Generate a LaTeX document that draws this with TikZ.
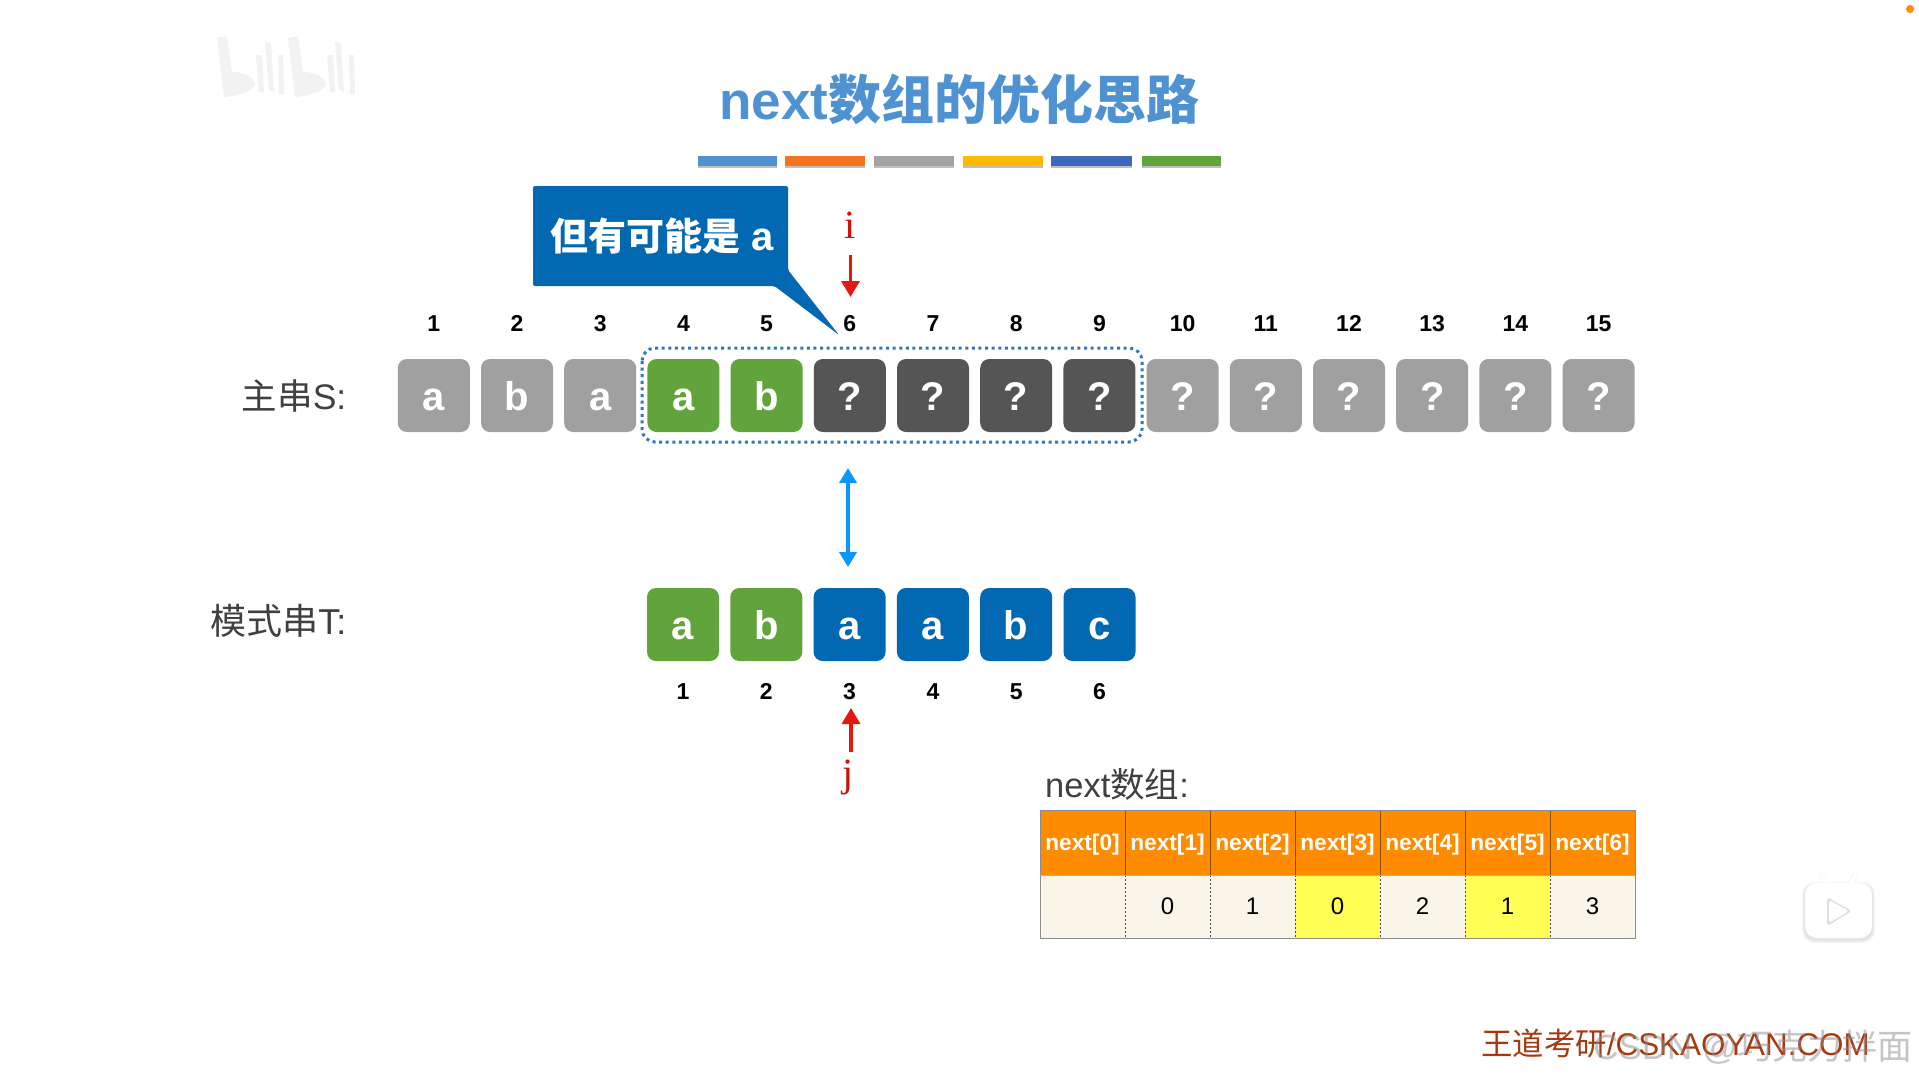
\documentclass[tikz,border=0pt]{standalone}
\usepackage{fontspec}
\setmainfont{Liberation Sans}
\newfontfamily\cjk{Noto Sans CJK SC}
\newfontfamily\ptrfont{Liberation Serif}
\usetikzlibrary{arrows.meta,shapes.geometric}
\definecolor{titleblue}{HTML}{4F92D2}
\definecolor{boxgray}{HTML}{A0A0A0}
\definecolor{boxdark}{HTML}{555555}
\definecolor{boxgreen}{HTML}{62A43C}
\definecolor{boxblue}{HTML}{0268B2}
\definecolor{txtdark}{HTML}{404040}
\definecolor{redmark}{HTML}{E2190C}
\definecolor{redtext}{HTML}{CC1208}
\definecolor{skyarrow}{HTML}{0A97FB}
\definecolor{hdrorange}{HTML}{FF8B00}
\definecolor{rowcream}{HTML}{F9F6E9}
\definecolor{rowyellow}{HTML}{FFFF55}
\definecolor{dotblue}{HTML}{2F78BE}
\definecolor{footred}{HTML}{A8380F}
\newcommand{\fs}[1]{\fontsize{#1}{#1}\selectfont}
\tikzset{
  x=1pt,y=-1pt,
  cellbox/.style={rounded corners=9pt,minimum width=72pt,minimum height=73pt,inner sep=0pt,
    text=white,font=\fs{40}\bfseries,text height=30pt,text depth=0pt},
  gbox/.style={cellbox,fill=boxgray},
  dbox/.style={cellbox,fill=boxdark},
  grbox/.style={cellbox,fill=boxgreen},
  blbox/.style={cellbox,fill=boxblue},
  numlabel/.style={font=\fs{23}\bfseries,text=black,inner sep=0pt,anchor=base},
  sidelabel/.style={text=txtdark,inner sep=0pt,anchor=east},
  redptr/.style={-{Triangle[length=16pt,width=18pt]},line width=3.5pt,draw=redmark},
  ptrtext/.style={font=\ptrfont\fs{40},text=redtext,inner sep=0pt,anchor=base},
  hdr/.style={minimum width=85pt,minimum height=65pt,inner sep=0pt,fill=hdrorange,text=white,
    font=\fs{22.7}\bfseries,text height=20pt,text depth=4pt},
  bodycell/.style={minimum width=85pt,minimum height=63pt,inner sep=0pt,fill=#1,text=black,
    font=\fs{24},text height=17pt,text depth=2pt},
  logo/.style={fill=black!5,draw=none},
}
\begin{document}
\begin{tikzpicture}
\useasboundingbox (0,0) rectangle (1919,1079);
\fill[white] (0,0) rectangle (1919,1079);

% faint channel logo
\fill[logo] (217,38) -- (227,36) -- (232,72) .. controls (245,72) and (255,78) .. (255,85) .. controls (250,93) and (235,96) .. (224,97) -- cycle;
\fill[logo] (288,38) -- (298,36) -- (303,72) .. controls (316,72) and (326,78) .. (326,85) .. controls (321,93) and (306,96) .. (295,97) -- cycle;
\fill[logo] (256,55) -- (262,55) -- (264,92) -- (259,92) -- cycle;
\fill[logo] (265,42) -- (271,43) -- (274,92) -- (269,90) -- cycle;
\fill[logo] (278,55) -- (283,55) -- (284,94) -- (279,94) -- cycle;
\fill[logo] (327,55) -- (333,55) -- (335,92) -- (330,92) -- cycle;
\fill[logo] (335,42) -- (341,43) -- (344,92) -- (339,90) -- cycle;
\fill[logo] (349,55) -- (354,55) -- (355,94) -- (350,94) -- cycle;

% orange dot
\fill[hdrorange] (1910,9) circle (4pt);

% title
\node[inner sep=0pt,text=titleblue,font=\fs{53}\bfseries] (title) at (959.5,99) {next{\cjk 数组的优化思路}};

% colour bars
\foreach \xa/\xb/\col in {698/777/4F92D2,785/865/F47320,874/954/A3A3A3,963/1043/FFB900,1051/1132/3C68C0,1142/1221/62A43C}{
  \definecolor{barcol}{HTML}{\col}
  \fill[black!25] (\xa,158) rectangle (\xb,168);
  \fill[barcol] (\xa,156) rectangle (\xb,166);
}

% callout
\fill[boxblue,rounded corners=2pt] (533,186) -- (788,186) -- (788,270) -- (839,335) -- (774.5,286) -- (533,286) -- cycle;
\node[inner sep=0pt,text=white,font=\fs{38}\bfseries] (callout) at (662,236) {{\cjk 但有可能是} {\fs{40}a}};

% pointer i
\node[ptrtext] (ilabel) at (850.5,238) {i};
\coordinate (itail) at (850.5,255);
\coordinate (itip) at (850.5,297);
\draw[redptr] (itail) -- (itip);

% main string
\node[sidelabel,font=\fs{35.5}] (slabel) at (346.5,396) {{\cjk 主串}S:};
\foreach \k/\ch/\st in {1/a/gbox,2/b/gbox,3/a/gbox,4/a/grbox,5/b/grbox,6/?/dbox,7/?/dbox,8/?/dbox,9/?/dbox,10/?/gbox,11/?/gbox,12/?/gbox,13/?/gbox,14/?/gbox,15/?/gbox}{
  \node[\st] (s\k) at ({433.8+83.2*(\k-1)},395.5) {\ch};
  \node[numlabel] (sn\k) at ({433.8+83.2*(\k-1)},331.5) {\k};
}
\draw[dotblue,line width=3pt,dash pattern=on 3pt off 3.6pt,rounded corners=13pt] (642,348) rectangle (1142,442);

% double arrow
\coordinate (dtop) at (848,468);
\coordinate (dbot) at (848,567);
\draw[{Triangle[length=15pt,width=17pt]}-{Triangle[length=15pt,width=17pt]},line width=3.5pt,draw=skyarrow] (dtop) -- (dbot);

% pattern string
\node[sidelabel,font=\fs{36}] (tlabel) at (346.5,621) {{\cjk 模式串}T:};
\foreach \k/\ch/\st in {1/a/grbox,2/b/grbox,3/a/blbox,4/a/blbox,5/b/blbox,6/c/blbox}{
  \node[\st] (t\k) at ({683+83.3*(\k-1)},624.5) {\ch};
  \node[numlabel] (tn\k) at ({683+83.3*(\k-1)},699.5) {\k};
}

% pointer j
\coordinate (jtail) at (851,752);
\coordinate (jtip) at (851,708);
\draw[redptr] (jtail) -- (jtip);
\node[ptrtext] (jlabel) at (848,786) {j};

% next table
\node[inner sep=0pt,anchor=west,font=\fs{34.5},text=txtdark] (nextlabel) at (1045,784) {next{\cjk 数组}:};
\foreach \k/\v/\col in {0//rowcream,1/0/rowcream,2/1/rowcream,3/0/rowyellow,4/2/rowcream,5/1/rowyellow,6/3/rowcream}{
  \node[hdr] (h\k) at ({1082.5+85*\k},842.5) {next[\k]};
  \node[bodycell=\col] (c\k) at ({1082.5+85*\k},906.5) {\v};
}
\foreach \k in {1,...,6}{
  \draw[draw=black!45!hdrorange,line width=.9pt] ({1040+85*\k},810) -- ({1040+85*\k},875);
  \draw[draw=black!70,line width=.9pt,dash pattern=on 2pt off 2pt] ({1040+85*\k},875) -- ({1040+85*\k},938);
}
\draw[draw=black!45,line width=1pt] (1040,810) rectangle (1635,938);
\draw[draw=black!30,line width=1pt] (1040,875) -- (1635,875);

% player icon
\foreach \g in {6,4,2}{
  \fill[black,opacity=.035,rounded corners=12pt] ({1805-\g/2},{883-\g/2+2}) rectangle ({1872+\g/2},{938+\g/2+2});
}
\draw[black!6,line width=5pt,line cap=round] (1826,883) -- (1822,875);
\draw[black!6,line width=5pt,line cap=round] (1851,883) -- (1855,875);
\fill[white,rounded corners=12pt] (1805,883) rectangle (1872,938);
\draw[white,line width=4pt,line cap=round] (1826,883) -- (1822,875);
\draw[white,line width=4pt,line cap=round] (1851,883) -- (1855,875);
\fill[black!12,rounded corners=3pt] (1827,897) -- (1852,911) -- (1827,926) -- cycle;
\fill[white,rounded corners=3pt] (1829,900) -- (1849,911) -- (1829,923) -- cycle;

% footer
\node[inner sep=0pt,text=footred,font=\fs{31.4}] (footer) at (1675.5,1044) {{\cjk 王道考研}/CSKAOYAN.COM};
\node[inner sep=0pt,text=black!45,opacity=.5,font=\fs{35}] (mark) at (1753,1047) {CSDN @{\cjk 巧克力拌面}};
\end{tikzpicture}
\end{document}
